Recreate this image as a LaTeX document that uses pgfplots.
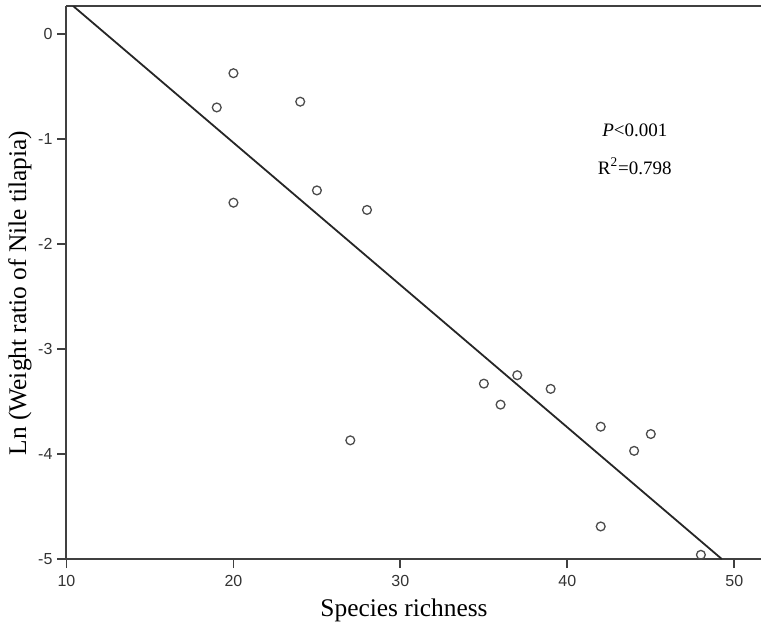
\documentclass[border=0pt]{standalone}
\usepackage{pgfplots}
\pgfplotsset{compat=1.18}
\usetikzlibrary{calc}
\usepackage{fontspec}
\setmainfont{Liberation Serif}
\newfontfamily\arialfont{Liberation Sans}
\begin{document}
\begin{tikzpicture}
\begin{axis}[
  scale only axis,
  width=347.25pt, height=276.5pt,
  xmin=10, xmax=51.6, ymin=-5, ymax=0.266,
  axis x line=box, axis y line=left,
  axis line style={-, line width=1pt, black!75},
  xtick={10,20,30,40,50}, ytick={-5,-4,-3,-2,-1,0},
  xtick pos=bottom, ytick pos=left,
  tick align=outside, major tick length=4.5pt,
  tick style={line width=0.9pt, black!75},
  /pgf/number format/assume math mode=true,
  ticklabel style={font=\arialfont\fontsize{8}{9}\selectfont, text=black!80},
  xticklabel style={yshift=0pt},
  yticklabel style={xshift=1pt},
  xlabel={Species richness},
  ylabel={Ln (Weight ratio of Nile tilapia)},
  label style={font=\fontsize{12.7}{14}\selectfont},
  xlabel style={at={(axis description cs:0.486,-0.0922)}, anchor=center},
  ylabel style={at={(axis description cs:-0.067,0.481)}, anchor=center},
  clip=true,
]
\addplot[only marks, mark=o, mark size=2.2pt, mark options={line width=0.65pt, draw=black!70}] coordinates {
(19,-0.70) (20,-0.374) (20,-1.607) (24,-0.645) (25,-1.49) (28,-1.676)
(27,-3.87) (35,-3.33) (36,-3.53) (37,-3.25) (39,-3.38) (42,-3.74)
(42,-4.69) (44,-3.97) (45,-3.81) (48,-4.96)
};
\addplot[line width=0.9pt, black!85] coordinates {(10.39,0.267) (49.25,-5)};
\node[anchor=center, font=\fontsize{9.5}{11}\selectfont] at (axis cs:44.04,-0.914) {\textit{P}<0.001};
\node[anchor=center, font=\fontsize{9.5}{11}\selectfont] at (axis cs:44.04,-1.257) {R\textsuperscript{2}=0.798};
\end{axis}
\pgfresetboundingbox
\path ($(current axis.south west)+(-33.25pt,-32.5pt)$) rectangle ($(current axis.north east)+(0pt,3pt)$);
\end{tikzpicture}
\end{document}
